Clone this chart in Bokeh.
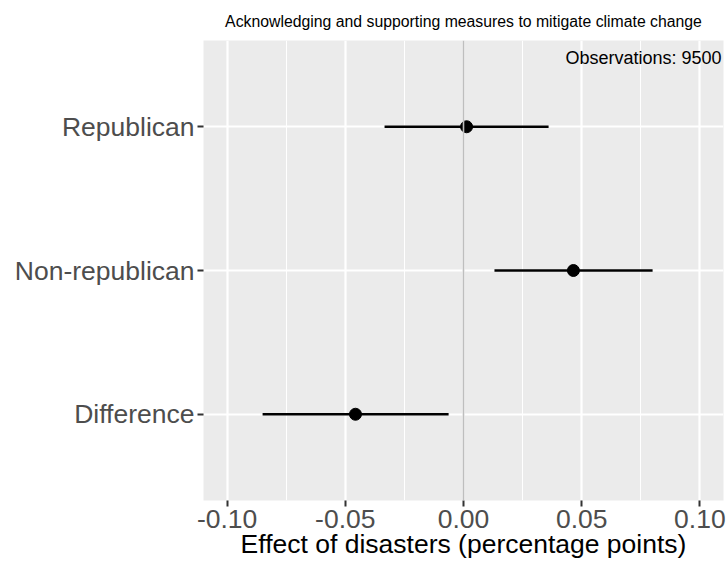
from bokeh.plotting import figure
from bokeh.models import FactorRange, Range1d, FixedTicker, Span, Label, ColumnDataSource
from bokeh.embed import file_html
from bokeh.resources import INLINE

# ---- data ----
groups = ["Republican", "Non-republican", "Difference"]
estimates = [0.0013, 0.0465, -0.0457]
ci_low = [-0.0334, 0.0131, -0.0850]
ci_high = [0.0360, 0.0800, -0.0063]

x_ticks = [-0.10, -0.05, 0.00, 0.05, 0.10]
x_tick_labels = ["-0.10", "-0.05", "0.00", "0.05", "0.10"]
x_minor_ticks = [-0.075, -0.025, 0.025, 0.075]

title_text = "Acknowledging and supporting measures to mitigate climate change"
x_title = "Effect of disasters (percentage points)"
obs_text = "Observations: 9500"

FONT = "Liberation Sans"

src = ColumnDataSource(dict(g=groups, est=estimates, lo=ci_low, hi=ci_high))

p = figure(
    width=728, height=564,
    y_range=FactorRange(factors=list(reversed(groups)), range_padding=0.1, range_padding_units="absolute"),
    x_range=Range1d(-0.11, 0.11),
    output_backend="svg", toolbar_location=None,
    min_border_left=203, min_border_right=5, min_border_top=40, min_border_bottom=64,
)
p.title.text = title_text
p.title.align = "center"
p.title.text_font = FONT
p.title.text_font_size = "15.8px"
p.title.text_font_style = "normal"
p.title.text_color = "black"
p.title.standoff = 21

p.background_fill_color = "#EBEBEB"
p.border_fill_color = "white"
p.outline_line_color = None

# grids
p.xgrid.ticker = FixedTicker(ticks=x_ticks, minor_ticks=x_minor_ticks)
p.xgrid.grid_line_color = "white"
p.xgrid.grid_line_width = 2.2
p.xgrid.minor_grid_line_color = "white"
p.xgrid.minor_grid_line_width = 1.1
p.ygrid.grid_line_color = "white"
p.ygrid.grid_line_width = 2.2

# axes
p.xaxis.ticker = FixedTicker(ticks=x_ticks)
p.xaxis.major_label_overrides = {t: l for t, l in zip(x_ticks, x_tick_labels)}
for ax in (p.xaxis[0], p.yaxis[0]):
    ax.axis_line_color = None
    ax.major_tick_line_color = "#333333"
    ax.major_tick_line_width = 2
    ax.major_tick_out = 6
    ax.major_tick_in = 0
    ax.minor_tick_line_color = None
    ax.major_label_text_font = FONT
    ax.major_label_text_font_size = "26.5px"
    ax.major_label_text_color = "#4D4D4D"
p.xaxis.major_label_standoff = 3
p.yaxis.major_label_standoff = 3

p.xaxis.axis_label = x_title
p.xaxis.axis_label_text_font = FONT
p.xaxis.axis_label_text_font_size = "26.5px"
p.xaxis.axis_label_text_font_style = "normal"
p.xaxis.axis_label_text_color = "black"
p.xaxis.axis_label_standoff = -2

# zero line
p.add_layout(Span(location=0, dimension="height", line_color="#BEBEBE", line_width=1.6))

# error bars and points
p.segment(x0="lo", x1="hi", y0="g", y1="g", source=src, line_color="black", line_width=2.5)
p.scatter(x="est", y="g", source=src, size=12, fill_color="black", line_color="black")

# annotation
p.add_layout(Label(x=518, y=443, x_units="screen", y_units="screen", text=obs_text,
                   text_align="right", text_baseline="middle", text_font=FONT,
                   text_font_size="18px", text_color="black"))

open("out.html", "w").write(file_html(p, INLINE))
